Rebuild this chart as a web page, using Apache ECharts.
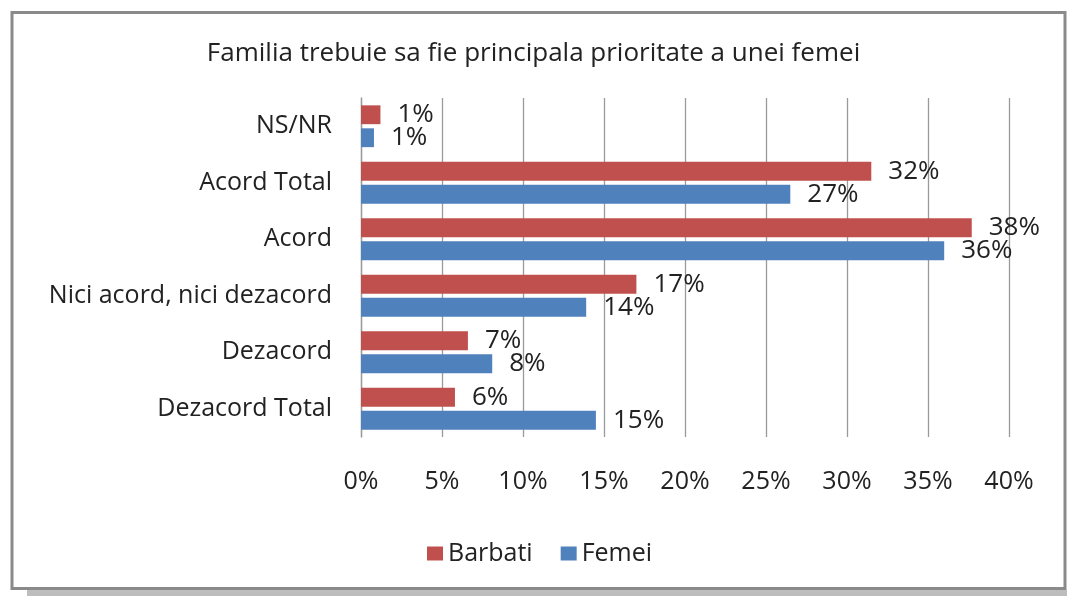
<!DOCTYPE html>
<html>
<head>
<meta charset="utf-8">
<script src="https://cdn.jsdelivr.net/npm/echarts@6/dist/echarts.min.js"></script>
<style>
  html, body { margin: 0; padding: 0; background: #fff; }
  #chart { width: 1067px; height: 596px; }
</style>
</head>
<body>
<div id="chart"></div>
<script>
// Categories listed bottom-to-top (axis starts at the bottom)
const categories = ['Dezacord Total', 'Dezacord', 'Nici acord, nici dezacord', 'Acord', 'Acord Total', 'NS/NR'];
const barbati = [5.8, 6.6, 17.0, 37.7, 31.5, 1.2];
const femei = [14.5, 8.1, 13.9, 36.0, 26.5, 0.8];
const xTicks = [0, 5, 10, 15, 20, 25, 30, 35, 40];
const titleText = 'Familia trebuie sa fie principala prioritate a unei femei';

const FONT = '"Open Sans", "Noto Sans", sans-serif';
const chart = echarts.init(document.getElementById('chart'), null, { renderer: 'canvas' });

const labelCfg = {
  show: true,
  position: 'right',
  distance: 17,
  fontFamily: FONT,
  fontSize: 26,
  color: '#222',
  formatter: p => Math.round(p.value) + '%'
};

chart.setOption({
  backgroundColor: '#fff',
  animation: false,
  graphic: [
    { type: 'rect', shape: { x: 27, y: 590, width: 1040, height: 6 }, style: { fill: '#bdbdbd' }, z: -10 },
    { type: 'rect', shape: { x: 12, y: 12.5, width: 1053, height: 576 }, style: { fill: 'none', stroke: '#8a8a8a', lineWidth: 3 }, z: -5 }
  ],
  title: {
    text: titleText,
    left: 'center',
    top: 36,
    textStyle: { fontFamily: FONT, fontSize: 26, fontWeight: 'normal', color: '#222' }
  },
  legend: {
    data: ['Barbati', 'Femei'],
    left: 422,
    top: 536,
    itemWidth: 16,
    itemHeight: 14,
    itemGap: 28,
    icon: 'rect',
    textStyle: { fontFamily: FONT, fontSize: 25, color: '#222' }
  },
  grid: { left: 361, right: 58, top: 98, bottom: 159, containLabel: false },
  xAxis: {
    type: 'value',
    min: xTicks[0],
    max: xTicks[xTicks.length - 1],
    interval: 5,
    axisLine: { show: false },
    axisTick: { show: false },
    axisLabel: { fontFamily: FONT, fontSize: 25, color: '#222', margin: 32, formatter: v => v + '%' },
    splitLine: { show: true, lineStyle: { color: '#9a9a9a', width: 1.3 } }
  },
  yAxis: {
    type: 'category',
    data: categories,
    axisLine: { show: true, lineStyle: { color: '#9a9a9a', width: 1.3 } },
    axisTick: { show: false },
    axisLabel: { fontFamily: FONT, fontSize: 25, color: '#222', margin: 29, padding: [4, 0, 0, 0] }
  },
  series: [
    {
      name: 'Barbati', type: 'bar', data: barbati,
      barCategoryGap: '26%', barGap: '22%',
      itemStyle: { color: '#C0504D' },
      label: labelCfg
    },
    {
      name: 'Femei', type: 'bar', data: femei,
      barCategoryGap: '26%', barGap: '22%',
      itemStyle: { color: '#4F81BD' },
      label: labelCfg
    }
  ]
});
</script>
</body>
</html>
